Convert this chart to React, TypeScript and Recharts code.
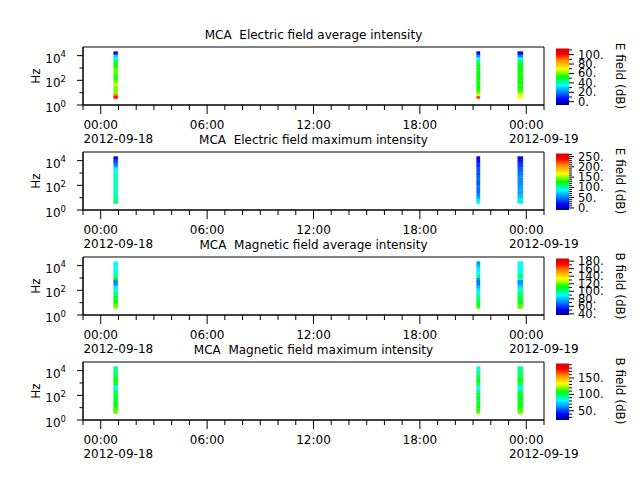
import React from "react";
import { ComposedChart, XAxis, YAxis, ReferenceArea, Scatter } from "recharts";

const panelTitles = [
  "MCA  Electric field average intensity",
  "MCA  Electric field maximum intensity",
  "MCA  Magnetic field average intensity",
  "MCA  Magnetic field maximum intensity",
];
const colorbarTitles = ["E field (dB)", "E field (dB)", "B field (dB)", "B field (dB)"];

// time axis, in hours from 2012-09-18 00:00
const hourTicks = [-1, 0, 1, 2, 3, 4, 5, 6, 7, 8, 9, 10, 11, 12, 13, 14, 15, 16, 17, 18, 19, 20, 21, 22, 23, 24, 25];
const majorHours = [0, 6, 12, 18, 24];
const majorLabels = ["00:00", "06:00", "12:00", "18:00", "00:00"];
const dateLabels = ["2012-09-18", "", "", "", "2012-09-19"];

const freqTicks = [1, 10, 100, 1000, 10000];
const freqMajor = [1, 100, 10000];

// spectrogram columns (start / end hour) and frequency bin edges (Hz)
const columnStart = [0.73, 21.2, 23.52];
const columnEnd = [0.96, 21.39, 23.81];
const freqEdges = [3.3, 5.4, 8.7, 14, 23, 37, 60, 98, 158, 257, 417, 676, 1096, 1778, 2884, 4677, 7586, 12300, 21400];

// dB values per column, lowest bin first
const eAvg = [
  [100, 90, 62, 60, 61, 67, 60, 55, 54, 57, 59, 58, 54, 52, 47, 40, 30, 6],
  [95, 72, 58, 54, 53, 52, 54, 53, 52, 53, 54, 52, 51, 48, 43, 36, 22, 5],
  [70, 69, 60, 55, 54, 55, 53, 54, 52, 55, 54, 53, 52, 50, 45, 36, 20, 3],
];
const eMax = [
  [112, 106, 102, 100, 99, 99, 98, 98, 97, 97, 96, 94, 90, 84, 59, 45, 34, 12],
  [95, 78, 62, 52, 46, 44, 50, 42, 40, 46, 41, 38, 40, 36, 32, 28, 22, 12],
  [95, 80, 72, 66, 60, 64, 60, 56, 54, 53, 56, 50, 46, 42, 36, 30, 22, 10],
];
const bAvg = [
  [122, 118, 112, 110, 108, 102, 100, 92, 86, 72, 68, 110, 98, 94, 92, 90, 90, 89],
  [118, 112, 106, 102, 100, 96, 92, 84, 78, 70, 68, 76, 100, 92, 88, 86, 80, 74],
  [120, 118, 112, 108, 106, 104, 100, 94, 84, 76, 70, 90, 104, 96, 92, 90, 90, 89],
];
const bMax = [
  [118, 114, 110, 108, 106, 106, 105, 104, 100, 86, 84, 104, 108, 106, 104, 98, 96, 95],
  [116, 112, 108, 106, 104, 104, 102, 102, 98, 84, 86, 100, 106, 104, 100, 94, 90, 86],
  [118, 114, 110, 108, 106, 106, 105, 104, 100, 86, 84, 100, 108, 106, 102, 97, 95, 94],
];
const panelValues = [eAvg, eMax, bAvg, bMax];

const cbarMin = [-7, -10, 37, 22];
const cbarMax = [113, 265, 187, 194];
const cbarMajor = [
  [0, 20, 40, 60, 80, 100],
  [0, 50, 100, 150, 200, 250],
  [40, 60, 80, 100, 120, 140, 160, 180],
  [50, 100, 150],
];
const cbarMinor = [
  [10, 30, 50, 70, 90, 110],
  [10, 20, 30, 40, 60, 70, 80, 90, 110, 120, 130, 140, 160, 170, 180, 190, 210, 220, 230, 240, 260],
  [50, 70, 90, 110, 130, 150, 170],
  [30, 40, 60, 70, 80, 90, 110, 120, 130, 140, 160, 170, 180, 190],
];

const W = 640;
const H = 480;
const PLOT_LEFT = 83;
const PLOT_RIGHT = 544;
const PANEL_TOP = [47, 152, 257, 362];
const PANEL_H = 58;
const CBAR_LEFT = 556;
const CBAR_W = 13;
const FONT = "DejaVu Sans, sans-serif";

// rainbow colour table: navy -> blue -> cyan -> green -> yellow -> red
const cmapPos = [0, 0.1, 0.35, 0.5, 0.64, 0.8, 0.9, 1];
const cmapRGB = [
  [0, 0, 140],
  [0, 0, 255],
  [0, 255, 255],
  [0, 255, 0],
  [255, 255, 0],
  [255, 128, 0],
  [255, 0, 0],
  [210, 0, 0],
];
const cmap = (t: number) => {
  const c = Math.max(0, Math.min(1, t));
  let i = 1;
  while (i < cmapPos.length - 1 && c > cmapPos[i]) i++;
  const f = (c - cmapPos[i - 1]) / (cmapPos[i] - cmapPos[i - 1]);
  const rgb = cmapRGB[i - 1].map((a, k) => Math.round(a + f * (cmapRGB[i][k] - a)));
  return `rgb(${rgb[0]},${rgb[1]},${rgb[2]})`;
};
const gradientStops = Array.from({ length: 41 }, (_, i) => i / 40);

const Nothing = () => <g />;

const TimeTick = (props: any) => {
  const { x, y, payload } = props;
  const k = majorHours.indexOf(payload.value);
  const major = k >= 0;
  return (
    <g>
      <line x1={x} x2={x} y1={y} y2={y + (major ? 9 : 5)} stroke="#000" strokeWidth={1} />
      {major && (
        <text x={x} y={y + 23.5} textAnchor="middle" fontSize={12} fontFamily={FONT} fill="#000">
          {majorLabels[k]}
        </text>
      )}
      {major && dateLabels[k] && (
        <text x={x - 17.3} y={y + 37.5} textAnchor="start" fontSize={12} fontFamily={FONT} fill="#000">
          {dateLabels[k]}
        </text>
      )}
    </g>
  );
};

const FreqTick = (props: any) => {
  const { x, y, payload } = props;
  const v = payload.value;
  const major = freqMajor.includes(v);
  return (
    <g>
      <line x1={x} x2={x - (major ? 6 : 3.5)} y1={y} y2={y} stroke="#000" strokeWidth={1} />
      {major && (
        <text x={x - 17} y={y + 7} textAnchor="end" fontSize={12} fontFamily={FONT} fill="#000">
          10
          <tspan dy={-5.5} fontSize={8.5}>
            {Math.round(Math.log10(v))}
          </tspan>
        </text>
      )}
    </g>
  );
};

const makeCbarTick = (major: number[]) => (props: any) => {
  const { x, y, payload } = props;
  const isMajor = major.includes(payload.value);
  return (
    <g>
      <line x1={x} x2={x + (isMajor ? 5 : 3)} y1={y} y2={y} stroke="#000" strokeWidth={1} />
      {isMajor && (
        <text x={x + 9} y={y + 4} textAnchor="start" fontSize={11.5} fontFamily={FONT} fill="#000">
          {`${payload.value}.`}
        </text>
      )}
    </g>
  );
};

const Panel = ({ index }: { index: number }) => {
  const top = PANEL_TOP[index];
  const values = panelValues[index];
  const lo = cbarMin[index];
  const hi = cbarMax[index];
  const anchors = columnStart.map((t) => ({ t, f: freqEdges[0] }));
  const cells: React.ReactNode[] = [];
  values.forEach((col, c) => {
    col.forEach((v, b) => {
      const color = cmap((v - lo) / (hi - lo));
      cells.push(
        <ReferenceArea
          key={`${c}-${b}`}
          x1={columnStart[c]}
          x2={columnEnd[c]}
          y1={freqEdges[b]}
          y2={freqEdges[b + 1]}
          fill={color}
          fillOpacity={1}
          stroke={color}
          strokeWidth={0.4}
        />
      );
    });
  });
  return (
    <div style={{ position: "absolute", left: 0, top: 0 }}>
      <ComposedChart
        width={W}
        height={H}
        data={anchors}
        margin={{ top, right: W - PLOT_RIGHT, bottom: H - top - PANEL_H - 40, left: PLOT_LEFT - 40 }}
      >
        <XAxis
          type="number"
          dataKey="t"
          domain={[-1, 25]}
          ticks={hourTicks}
          interval={0}
          tickSize={0}
          tickMargin={0}
          height={40}
          allowDataOverflow
          axisLine={{ stroke: "#000" }}
          tick={(p: any) => <TimeTick {...p} />}
        />
        <YAxis
          type="number"
          dataKey="f"
          scale="log"
          domain={[1, 50000]}
          ticks={freqTicks}
          interval={0}
          tickSize={0}
          tickMargin={0}
          width={40}
          allowDataOverflow
          axisLine={{ stroke: "#000" }}
          tick={(p: any) => <FreqTick {...p} />}
        />
        <Scatter dataKey="f" shape={Nothing} isAnimationActive={false} legendType="none" />
        {cells}
        <ReferenceArea x1={-1} x2={25} y1={1} y2={50000} fill="none" stroke="#000" strokeWidth={1} />
      </ComposedChart>
    </div>
  );
};

const Colorbar = ({ index }: { index: number }) => {
  const top = PANEL_TOP[index] + 1.5;
  const h = PANEL_H - 1.5;
  const lo = cbarMin[index];
  const hi = cbarMax[index];
  const ends = [
    { x: 0, v: lo },
    { x: 1, v: hi },
  ];
  return (
    <div style={{ position: "absolute", left: 0, top: 0 }}>
      <ComposedChart
        width={W}
        height={H}
        data={ends}
        margin={{ top, bottom: H - top - h, left: CBAR_LEFT, right: W - CBAR_LEFT - CBAR_W - 50 }}
      >
        <XAxis type="number" dataKey="x" domain={[0, 1]} hide allowDataOverflow />
        <YAxis
          type="number"
          dataKey="v"
          orientation="right"
          domain={[lo, hi]}
          ticks={[...cbarMajor[index], ...cbarMinor[index]]}
          interval={0}
          tickSize={0}
          tickMargin={0}
          width={50}
          axisLine={false}
          allowDataOverflow
          tick={makeCbarTick(cbarMajor[index])}
        />
        <Scatter dataKey="v" shape={Nothing} isAnimationActive={false} legendType="none" />
        <ReferenceArea x1={0} x2={1} y1={lo} y2={hi} fill="url(#rainbowGradient)" fillOpacity={1} stroke="none" />
      </ComposedChart>
    </div>
  );
};

export default function App() {
  return (
    <div style={{ position: "absolute", left: 0, top: 0, width: W, height: H, background: "#fff", fontFamily: FONT }}>
      <svg width={0} height={0} style={{ position: "absolute" }}>
        <defs>
          <linearGradient id="rainbowGradient" x1="0" y1="1" x2="0" y2="0">
            {gradientStops.map((t) => (
              <stop key={t} offset={t} stopColor={cmap(t)} />
            ))}
          </linearGradient>
        </defs>
      </svg>
      {[0, 1, 2, 3].map((i) => (
        <Panel key={`p${i}`} index={i} />
      ))}
      {[0, 1, 2, 3].map((i) => (
        <Colorbar key={`c${i}`} index={i} />
      ))}
      <svg width={W} height={H} style={{ position: "absolute", left: 0, top: 0, pointerEvents: "none" }}>
        {panelTitles.map((t, i) => (
          <g key={t}>
            <text
              x={(PLOT_LEFT + PLOT_RIGHT) / 2}
              y={PANEL_TOP[i] - 8}
              textAnchor="middle"
              fontSize={12}
              fontFamily={FONT}
              fill="#000"
              style={{ whiteSpace: "pre" }}
            >
              {t}
            </text>
            <text transform={`translate(40, ${PANEL_TOP[i] + PANEL_H / 2}) rotate(-90)`} textAnchor="middle" fontSize={12} fontFamily={FONT} fill="#000">
              Hz
            </text>
            <text transform={`translate(616, ${PANEL_TOP[i] + PANEL_H / 2}) rotate(90)`} textAnchor="middle" fontSize={12} fontFamily={FONT} fill="#000">
              {colorbarTitles[i]}
            </text>
          </g>
        ))}
      </svg>
    </div>
  );
}
